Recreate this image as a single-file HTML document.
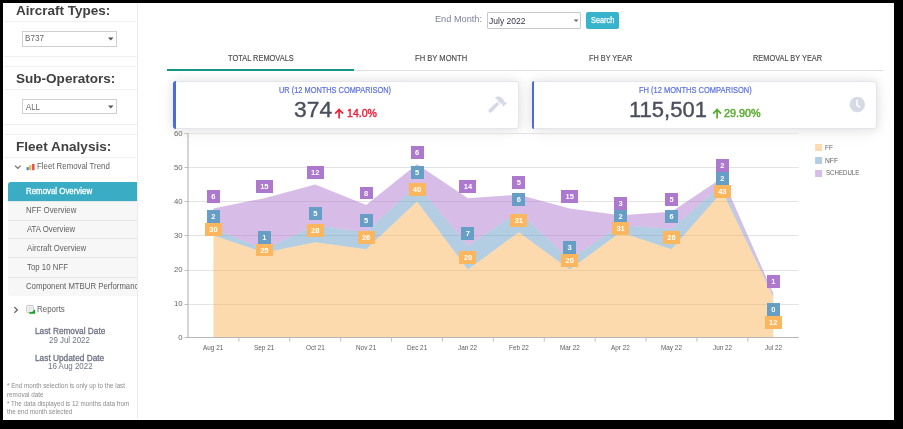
<!DOCTYPE html>
<html><head><meta charset="utf-8"><style>
html,body{margin:0;padding:0;}
body{will-change:transform;width:903px;height:429px;background:#000;position:relative;overflow:hidden;font-family:"Liberation Sans", sans-serif;}
.t{position:absolute;white-space:nowrap;}
.r{position:absolute;}
.lb{position:absolute;color:#fff;font-size:7.5px;font-weight:bold;text-align:center;font-family:"Liberation Sans", sans-serif;}
</style></head><body>
<div class="r" style="left:3.00px;top:3.00px;width:891.00px;height:417.00px;background:#fff"></div>
<div class="r" style="left:137.00px;top:3.00px;width:1.00px;height:415.50px;background:#ebebeb"></div>
<div class="t" style="left:16.36px;top:4.49px;font-size:13.00px;line-height:13.00px;color:#404040;font-weight:bold;transform:scaleX(1.0380);transform-origin:0 0;">Aircraft Types:</div>
<div class="r" style="left:4.00px;top:21.00px;width:133.00px;height:1.00px;background:#efefef"></div>
<div class="r" style="left:22.40px;top:31.00px;width:95.10px;height:15.80px;border:1px solid #cfcfcf;box-sizing:border-box;background:#fff"></div>
<div class="t" style="left:25.43px;top:34.40px;font-size:8.50px;line-height:8.50px;color:#666;font-weight:normal;transform:scaleX(0.9561);transform-origin:0 0;">B737</div>
<svg class="r" style="left:108px;top:37px" width="6" height="4"><path d="M0 0.5h5.5L2.75 3.5z" fill="#555"/></svg>
<div class="r" style="left:4.00px;top:56.00px;width:133.00px;height:1.00px;background:#efefef"></div>
<div class="r" style="left:4.00px;top:66.00px;width:133.00px;height:1.00px;background:#efefef"></div>
<div class="t" style="left:15.89px;top:71.79px;font-size:13.00px;line-height:13.00px;color:#404040;font-weight:bold;transform:scaleX(1.0416);transform-origin:0 0;">Sub-Operators:</div>
<div class="r" style="left:4.00px;top:89.00px;width:133.00px;height:1.00px;background:#efefef"></div>
<div class="r" style="left:22.40px;top:98.70px;width:95.10px;height:15.60px;border:1px solid #cfcfcf;box-sizing:border-box;background:#fff"></div>
<div class="t" style="left:26.08px;top:102.60px;font-size:8.50px;line-height:8.50px;color:#666;font-weight:normal;transform:scaleX(0.9115);transform-origin:0 0;">ALL</div>
<svg class="r" style="left:108px;top:105px" width="6" height="4"><path d="M0 0.5h5.5L2.75 3.5z" fill="#555"/></svg>
<div class="r" style="left:4.00px;top:124.00px;width:133.00px;height:1.00px;background:#efefef"></div>
<div class="r" style="left:4.00px;top:134.00px;width:133.00px;height:1.00px;background:#efefef"></div>
<div class="t" style="left:16.08px;top:139.69px;font-size:13.00px;line-height:13.00px;color:#404040;font-weight:bold;transform:scaleX(1.0443);transform-origin:0 0;">Fleet Analysis:</div>
<div class="r" style="left:4.00px;top:157.00px;width:133.00px;height:1.00px;background:#efefef"></div>
<svg class="r" style="left:14px;top:164.4px" width="8" height="6"><path d="M1 1.6L3.8 4.4L6.6 1.6" stroke="#707070" stroke-width="1.3" fill="none"/></svg>
<svg class="r" style="left:0;top:0" width="903" height="429"><rect x="26.6" y="167.1" width="2.2" height="3.1" fill="#3b82e8"/><rect x="29.1" y="165.2" width="2.2" height="5" fill="#f7b928"/><rect x="32.1" y="163.9" width="2.4" height="6.3" fill="#e24b4b"/></svg>
<div class="t" style="left:37.25px;top:162.02px;font-size:8.60px;line-height:8.60px;color:#5e5e5e;font-weight:normal;transform:scaleX(0.9127);transform-origin:0 0;">Fleet Removal Trend</div>
<div class="r" style="left:8.20px;top:181.70px;width:128.80px;height:114.40px;background:#f7f7f7;border-radius:3px 0 0 3px"></div>
<div class="r" style="left:8.20px;top:181.70px;width:128.80px;height:19.30px;background:#3aadc5;border-radius:3px 0 0 0"></div>
<div class="r" style="left:8.20px;top:201.00px;width:128.80px;height:1.00px;background:#e6e6e6"></div>
<div class="r" style="left:8.20px;top:219.60px;width:128.80px;height:1.00px;background:#e6e6e6"></div>
<div class="r" style="left:8.20px;top:238.20px;width:128.80px;height:1.00px;background:#e6e6e6"></div>
<div class="r" style="left:8.20px;top:257.40px;width:128.80px;height:1.00px;background:#e6e6e6"></div>
<div class="r" style="left:8.20px;top:277.40px;width:128.80px;height:1.00px;background:#e6e6e6"></div>
<div class="t" style="left:26.05px;top:186.89px;font-size:8.40px;line-height:8.40px;color:#fff;font-weight:normal;transform:scaleX(0.9409);transform-origin:0 0;-webkit-text-stroke:0.3px #fff">Removal Overview</div>
<div class="t" style="left:26.05px;top:205.99px;font-size:8.40px;line-height:8.40px;color:#5e5e5e;font-weight:normal;transform:scaleX(0.9414);transform-origin:0 0;">NFF Overview</div>
<div class="t" style="left:26.68px;top:224.89px;font-size:8.40px;line-height:8.40px;color:#5e5e5e;font-weight:normal;transform:scaleX(0.9293);transform-origin:0 0;">ATA Overview</div>
<div class="t" style="left:26.78px;top:243.79px;font-size:8.40px;line-height:8.40px;color:#5e5e5e;font-weight:normal;transform:scaleX(0.9289);transform-origin:0 0;">Aircraft Overview</div>
<div class="t" style="left:26.62px;top:263.09px;font-size:8.40px;line-height:8.40px;color:#5e5e5e;font-weight:normal;transform:scaleX(0.9367);transform-origin:0 0;">Top 10 NFF</div>
<div class="r" style="left:0;top:270px;width:137px;height:26px;overflow:hidden">
<div class="t" style="left:26.41px;top:12.39px;font-size:8.40px;line-height:8.40px;color:#5e5e5e;font-weight:normal;transform:scaleX(0.9289);transform-origin:0 0;">Component MTBUR Performance</div>
</div>
<svg class="r" style="left:13px;top:306px" width="6" height="8"><path d="M1.3 1.1L4.4 3.9L1.3 6.7" stroke="#6a6a6a" stroke-width="1.3" fill="none"/></svg>
<svg class="r" style="left:0;top:0" width="903" height="429"><rect x="26.7" y="305.5" width="6.6" height="7" rx="1" fill="#fafafa" stroke="#bcbcbc" stroke-width="0.9"/><path d="M28.3 307.6h3.4M28.3 309.2h3.4M28.3 310.8h2" stroke="#cfcfcf" stroke-width="0.8"/><path d="M28.8 313.8L30.6 311.6L31.9 312.3L35.1 309.3V313.8z" fill="#15a01e"/></svg>
<div class="t" style="left:37.24px;top:304.82px;font-size:8.60px;line-height:8.60px;color:#5e5e5e;font-weight:normal;transform:scaleX(0.9240);transform-origin:0 0;">Reports</div>
<div class="t" style="left:34.92px;top:326.92px;font-size:8.60px;line-height:8.60px;color:#6e7286;font-weight:normal;transform:scaleX(0.9619);transform-origin:0 0;-webkit-text-stroke:0.3px #6e7286">Last Removal Date</div>
<div class="t" style="left:49.40px;top:335.52px;font-size:8.60px;line-height:8.60px;color:#6e7286;font-weight:normal;transform:scaleX(0.9197);transform-origin:0 0;">29 Jul 2022</div>
<div class="t" style="left:35.21px;top:353.82px;font-size:8.60px;line-height:8.60px;color:#6e7286;font-weight:normal;transform:scaleX(0.9656);transform-origin:0 0;-webkit-text-stroke:0.3px #6e7286">Last Updated Date</div>
<div class="t" style="left:48.00px;top:362.42px;font-size:8.60px;line-height:8.60px;color:#6e7286;font-weight:normal;transform:scaleX(0.9235);transform-origin:0 0;">16 Aug 2022</div>
<div class="t" style="left:7.19px;top:382.98px;font-size:6.40px;line-height:6.40px;color:#8c8c8c;font-weight:normal;transform:scaleX(0.9797);transform-origin:0 0;">* End month selection is only up to the last</div>
<div class="t" style="left:6.87px;top:391.98px;font-size:6.40px;line-height:6.40px;color:#8c8c8c;font-weight:normal;transform:scaleX(0.9893);transform-origin:0 0;">removal date</div>
<div class="t" style="left:7.19px;top:400.68px;font-size:6.40px;line-height:6.40px;color:#8c8c8c;font-weight:normal;transform:scaleX(0.9785);transform-origin:0 0;">* The data displayed is 12 months data from</div>
<div class="t" style="left:7.21px;top:409.28px;font-size:6.40px;line-height:6.40px;color:#8c8c8c;font-weight:normal;transform:scaleX(0.9813);transform-origin:0 0;">the end month selected</div>
<div class="t" style="left:435.34px;top:14.20px;font-size:9.80px;line-height:9.80px;color:#7d8398;font-weight:normal;transform:scaleX(0.9373);transform-origin:0 0;">End Month:</div>
<div class="r" style="left:486.50px;top:11.80px;width:94.20px;height:17.30px;border:1px solid #c8c8c8;box-sizing:border-box;background:#fff;border-radius:1px"></div>
<div class="t" style="left:488.57px;top:16.63px;font-size:9.30px;line-height:9.30px;color:#38344a;font-weight:normal;transform:scaleX(0.9184);transform-origin:0 0;">July 2022</div>
<svg class="r" style="left:0;top:0" width="903" height="429"><path d="M573.7 19.4h4.8L576.1 22z" fill="#666"/></svg>
<div class="r" style="left:585.90px;top:11.90px;width:33.60px;height:17.20px;background:#36b4cb;border-radius:2px"></div>
<div class="t" style="left:591.17px;top:15.55px;font-size:8.80px;line-height:8.80px;color:#fff;font-weight:normal;transform:scaleX(0.8325);transform-origin:0 0;-webkit-text-stroke:0.25px #fff">Search</div>
<div class="r" style="left:167.30px;top:69.60px;width:716.00px;height:1.40px;background:#e0e0e0"></div>
<div class="r" style="left:167.30px;top:69.40px;width:187.00px;height:1.80px;background:#139486"></div>
<div class="t" style="left:228.03px;top:54.21px;font-size:9.20px;line-height:9.20px;color:#4a4a4a;font-weight:normal;transform:scaleX(0.8092);transform-origin:0 0;-webkit-text-stroke:0.15px #4a4a4a">TOTAL REMOVALS</div>
<div class="t" style="left:415.27px;top:54.21px;font-size:9.20px;line-height:9.20px;color:#4a4a4a;font-weight:normal;transform:scaleX(0.8268);transform-origin:0 0;-webkit-text-stroke:0.15px #4a4a4a">FH BY MONTH</div>
<div class="t" style="left:588.90px;top:54.21px;font-size:9.20px;line-height:9.20px;color:#4a4a4a;font-weight:normal;transform:scaleX(0.7955);transform-origin:0 0;-webkit-text-stroke:0.15px #4a4a4a">FH BY YEAR</div>
<div class="t" style="left:753.39px;top:54.21px;font-size:9.20px;line-height:9.20px;color:#4a4a4a;font-weight:normal;transform:scaleX(0.8036);transform-origin:0 0;-webkit-text-stroke:0.15px #4a4a4a">REMOVAL BY YEAR</div>
<div class="r" style="left:173.40px;top:80.50px;width:345.20px;height:48.30px;background:#fff;border-radius:3px;box-shadow:0 0 10px 1px rgba(0,0,0,0.08),0 3px 18px rgba(0,0,0,0.06);border:1px solid #e4e4ec;box-sizing:border-box"></div>
<div class="r" style="left:173.40px;top:80.50px;width:2.20px;height:48.30px;background:#4a6ae0;border-radius:3px 0 0 3px"></div>
<div class="r" style="left:532.20px;top:80.50px;width:345.00px;height:48.30px;background:#fff;border-radius:3px;box-shadow:0 0 10px 1px rgba(0,0,0,0.08),0 3px 18px rgba(0,0,0,0.06);border:1px solid #e4e4ec;box-sizing:border-box"></div>
<div class="r" style="left:532.20px;top:80.50px;width:2.20px;height:48.30px;background:#4a6ae0;border-radius:3px 0 0 3px"></div>
<div class="t" style="left:279.23px;top:85.72px;font-size:8.60px;line-height:8.60px;color:#5a6fe0;font-weight:normal;transform:scaleX(0.8607);transform-origin:0 0;-webkit-text-stroke:0.2px #5a6fe0">UR (12 MONTHS COMPARISON)</div>
<div class="t" style="left:638.58px;top:85.72px;font-size:8.60px;line-height:8.60px;color:#5a6fe0;font-weight:normal;transform:scaleX(0.8721);transform-origin:0 0;-webkit-text-stroke:0.2px #5a6fe0">FH (12 MONTHS COMPARISON)</div>
<div class="t" style="left:293.54px;top:99.33px;font-size:22.40px;line-height:22.40px;color:#4b4f5c;font-weight:normal;transform:scaleX(1.0196);transform-origin:0 0;-webkit-text-stroke:0.4px #4b4f5c">374</div>
<svg class="r" style="left:334px;top:108px" width="11" height="11"><path d="M5.1 10.5V1.8M1.2 5.6L5.1 1.5L9.0 5.6" stroke="#f0203a" stroke-width="1.7" fill="none"/></svg>
<div class="t" style="left:346.81px;top:108.43px;font-size:11.30px;line-height:11.30px;color:#f0203a;font-weight:normal;transform:scaleX(0.9353);transform-origin:0 0;-webkit-text-stroke:0.45px #f0203a">14.0%</div>
<div class="t" style="left:629.15px;top:99.13px;font-size:22.40px;line-height:22.40px;color:#4b4f5c;font-weight:normal;transform:scaleX(0.9823);transform-origin:0 0;-webkit-text-stroke:0.4px #4b4f5c">115,501</div>
<svg class="r" style="left:711.5px;top:108px" width="11" height="11"><path d="M5.1 10.5V1.8M1.2 5.6L5.1 1.5L9.0 5.6" stroke="#55ab2c" stroke-width="1.7" fill="none"/></svg>
<div class="t" style="left:724.16px;top:108.33px;font-size:11.30px;line-height:11.30px;color:#55ab2c;font-weight:normal;transform:scaleX(0.9559);transform-origin:0 0;-webkit-text-stroke:0.45px #55ab2c">29.90%</div>
<svg class="r" style="left:0;top:0" width="903" height="429"><path transform="translate(488.5,96.5) scale(0.0316)" d="M571.31 193.94l-22.63-22.63c-6.25-6.25-16.38-6.25-22.63 0l-11.31 11.31-28.9-28.9c5.630-21.31.36-44.9-16.35-61.61l-45.25-45.25c-62.48-62.48-163.79-62.48-226.28 0l90.51 45.25v18.75c0 16.97 6.74 33.25 18.75 45.25l49.14 49.14c16.71 16.71 40.3 21.98 61.61 16.35l28.9 28.9-11.31 11.31c-6.25 6.25-6.25 16.38 0 22.63l22.63 22.63c6.25 6.25 16.38 6.25 22.63 0l90.51-90.51c6.23-6.24 6.23-16.37-.02-22.62zm-286.72-15.2c-3.7-3.7-6.84-7.79-9.85-11.95L19.64 404.96c-25.57 23.88-26.26 64.19-1.53 88.93s65.05 24.05 88.93-1.53l238.13-255.07c-3.96-2.91-7.9-5.87-11.44-9.41l-49.14-49.14z" fill="#d6d9e6"/></svg>
<svg class="r" style="left:848px;top:95px" width="19" height="19"><circle cx="9.3" cy="9.5" r="7.7" fill="#d6d9e6"/><path d="M9 5.3V10.4L11.6 12" stroke="#fff" stroke-width="1.5" fill="none" stroke-linecap="round"/></svg>
<svg class="r" style="left:0;top:0" width="903" height="429">
<line x1="184.5" y1="337.50" x2="188.0" y2="337.50" stroke="#bdbdbd" stroke-width="1"/>
<line x1="188.0" y1="304.50" x2="798.7" y2="304.50" stroke="#e3e3e3" stroke-width="1"/>
<line x1="184.5" y1="304.50" x2="188.0" y2="304.50" stroke="#bdbdbd" stroke-width="1"/>
<line x1="188.0" y1="270.50" x2="798.7" y2="270.50" stroke="#e3e3e3" stroke-width="1"/>
<line x1="184.5" y1="270.50" x2="188.0" y2="270.50" stroke="#bdbdbd" stroke-width="1"/>
<line x1="188.0" y1="235.50" x2="798.7" y2="235.50" stroke="#e3e3e3" stroke-width="1"/>
<line x1="184.5" y1="235.50" x2="188.0" y2="235.50" stroke="#bdbdbd" stroke-width="1"/>
<line x1="188.0" y1="201.50" x2="798.7" y2="201.50" stroke="#e3e3e3" stroke-width="1"/>
<line x1="184.5" y1="201.50" x2="188.0" y2="201.50" stroke="#bdbdbd" stroke-width="1"/>
<line x1="188.0" y1="167.50" x2="798.7" y2="167.50" stroke="#e3e3e3" stroke-width="1"/>
<line x1="184.5" y1="167.50" x2="188.0" y2="167.50" stroke="#bdbdbd" stroke-width="1"/>
<line x1="188.0" y1="133.50" x2="798.7" y2="133.50" stroke="#e3e3e3" stroke-width="1"/>
<line x1="184.5" y1="133.50" x2="188.0" y2="133.50" stroke="#bdbdbd" stroke-width="1"/>
<polygon points="213.45,235.56 264.34,252.55 315.23,242.36 366.12,249.15 417.01,201.58 467.90,269.54 518.80,232.16 569.69,269.54 620.58,232.16 671.47,249.15 722.36,191.39 773.25,296.72 773.25,337.50 722.36,337.50 671.47,337.50 620.58,337.50 569.69,337.50 518.80,337.50 467.90,337.50 417.01,337.50 366.12,337.50 315.23,337.50 264.34,337.50 213.45,337.50" fill="#fcb65e" fill-opacity="0.5"/>
<polygon points="213.45,228.76 264.34,249.15 315.23,225.37 366.12,232.16 417.01,184.59 467.90,245.75 518.80,211.77 569.69,259.35 620.58,225.37 671.47,228.76 722.36,184.59 773.25,296.72 773.25,296.72 722.36,191.39 671.47,249.15 620.58,232.16 569.69,269.54 518.80,232.16 467.90,269.54 417.01,201.58 366.12,249.15 315.23,242.36 264.34,252.55 213.45,235.56" fill="#679ec5" fill-opacity="0.5"/>
<polygon points="213.45,208.38 264.34,198.18 315.23,184.59 366.12,204.98 417.01,164.20 467.90,198.18 518.80,194.78 569.69,208.38 620.58,215.17 671.47,211.77 722.36,177.79 773.25,293.33 773.25,296.72 722.36,184.59 671.47,228.76 620.58,225.37 569.69,259.35 518.80,211.77 467.90,245.75 417.01,184.59 366.12,232.16 315.23,225.37 264.34,249.15 213.45,228.76" fill="#ad79ce" fill-opacity="0.5"/>
<line x1="188.0" y1="133.62" x2="188.0" y2="338.0" stroke="#b6b6b6" stroke-width="1.15"/>
<line x1="188.0" y1="337.5" x2="798.7" y2="337.5" stroke="#b6b6b6" stroke-width="1.15"/>
<line x1="238.89" y1="337.5" x2="238.89" y2="341.5" stroke="#bdbdbd" stroke-width="1"/>
<line x1="289.78" y1="337.5" x2="289.78" y2="341.5" stroke="#bdbdbd" stroke-width="1"/>
<line x1="340.68" y1="337.5" x2="340.68" y2="341.5" stroke="#bdbdbd" stroke-width="1"/>
<line x1="391.57" y1="337.5" x2="391.57" y2="341.5" stroke="#bdbdbd" stroke-width="1"/>
<line x1="442.46" y1="337.5" x2="442.46" y2="341.5" stroke="#bdbdbd" stroke-width="1"/>
<line x1="493.35" y1="337.5" x2="493.35" y2="341.5" stroke="#bdbdbd" stroke-width="1"/>
<line x1="544.24" y1="337.5" x2="544.24" y2="341.5" stroke="#bdbdbd" stroke-width="1"/>
<line x1="595.13" y1="337.5" x2="595.13" y2="341.5" stroke="#bdbdbd" stroke-width="1"/>
<line x1="646.03" y1="337.5" x2="646.03" y2="341.5" stroke="#bdbdbd" stroke-width="1"/>
<line x1="696.92" y1="337.5" x2="696.92" y2="341.5" stroke="#bdbdbd" stroke-width="1"/>
<line x1="747.81" y1="337.5" x2="747.81" y2="341.5" stroke="#bdbdbd" stroke-width="1"/>
<rect x="815.1" y="144.00" width="7" height="7" fill="#fcb65e" fill-opacity="0.5"/>
<rect x="815.1" y="157.00" width="7" height="7" fill="#679ec5" fill-opacity="0.5"/>
<rect x="815.1" y="170.00" width="7" height="7" fill="#ad79ce" fill-opacity="0.5"/>
</svg>
<div class="t" style="left:825.27px;top:143.87px;font-size:7.60px;line-height:7.60px;color:#606060;font-weight:normal;transform:scaleX(0.8392);transform-origin:0 0;">FF</div>
<div class="t" style="left:825.25px;top:156.67px;font-size:7.60px;line-height:7.60px;color:#606060;font-weight:normal;transform:scaleX(0.8820);transform-origin:0 0;">NFF</div>
<div class="t" style="left:825.52px;top:169.37px;font-size:7.60px;line-height:7.60px;color:#606060;font-weight:normal;transform:scaleX(0.8052);transform-origin:0 0;">SCHEDULE</div>
<div class="t" style="left:178.36px;top:333.70px;font-size:7.80px;line-height:7.80px;color:#666;font-weight:normal;transform:scaleX(1.0000);transform-origin:0 0;">0</div>
<div class="t" style="left:174.03px;top:299.72px;font-size:7.80px;line-height:7.80px;color:#666;font-weight:normal;transform:scaleX(1.0000);transform-origin:0 0;">10</div>
<div class="t" style="left:174.03px;top:265.74px;font-size:7.80px;line-height:7.80px;color:#666;font-weight:normal;transform:scaleX(1.0000);transform-origin:0 0;">20</div>
<div class="t" style="left:174.03px;top:231.76px;font-size:7.80px;line-height:7.80px;color:#666;font-weight:normal;transform:scaleX(1.0000);transform-origin:0 0;">30</div>
<div class="t" style="left:174.03px;top:197.78px;font-size:7.80px;line-height:7.80px;color:#666;font-weight:normal;transform:scaleX(1.0000);transform-origin:0 0;">40</div>
<div class="t" style="left:174.03px;top:163.80px;font-size:7.80px;line-height:7.80px;color:#666;font-weight:normal;transform:scaleX(1.0000);transform-origin:0 0;">50</div>
<div class="t" style="left:174.03px;top:129.82px;font-size:7.80px;line-height:7.80px;color:#666;font-weight:normal;transform:scaleX(1.0000);transform-origin:0 0;">60</div>
<div class="t" style="left:203.48px;top:343.80px;font-size:7.80px;line-height:7.80px;color:#5c5c5c;font-weight:normal;transform:scaleX(0.8184);transform-origin:0 0;">Aug 21</div>
<div class="t" style="left:254.24px;top:343.80px;font-size:7.80px;line-height:7.80px;color:#5c5c5c;font-weight:normal;transform:scaleX(0.8184);transform-origin:0 0;">Sep 21</div>
<div class="t" style="left:305.83px;top:343.80px;font-size:7.80px;line-height:7.80px;color:#5c5c5c;font-weight:normal;transform:scaleX(0.8184);transform-origin:0 0;">Oct 21</div>
<div class="t" style="left:355.90px;top:343.80px;font-size:7.80px;line-height:7.80px;color:#5c5c5c;font-weight:normal;transform:scaleX(0.8184);transform-origin:0 0;">Nov 21</div>
<div class="t" style="left:406.79px;top:343.80px;font-size:7.80px;line-height:7.80px;color:#5c5c5c;font-weight:normal;transform:scaleX(0.8184);transform-origin:0 0;">Dec 21</div>
<div class="t" style="left:458.43px;top:343.80px;font-size:7.80px;line-height:7.80px;color:#5c5c5c;font-weight:normal;transform:scaleX(0.8184);transform-origin:0 0;">Jan 22</div>
<div class="t" style="left:508.76px;top:343.80px;font-size:7.80px;line-height:7.80px;color:#5c5c5c;font-weight:normal;transform:scaleX(0.8184);transform-origin:0 0;">Feb 22</div>
<div class="t" style="left:559.66px;top:343.80px;font-size:7.80px;line-height:7.80px;color:#5c5c5c;font-weight:normal;transform:scaleX(0.8184);transform-origin:0 0;">Mar 22</div>
<div class="t" style="left:611.33px;top:343.80px;font-size:7.80px;line-height:7.80px;color:#5c5c5c;font-weight:normal;transform:scaleX(0.8184);transform-origin:0 0;">Apr 22</div>
<div class="t" style="left:660.91px;top:343.80px;font-size:7.80px;line-height:7.80px;color:#5c5c5c;font-weight:normal;transform:scaleX(0.8184);transform-origin:0 0;">May 22</div>
<div class="t" style="left:712.89px;top:343.80px;font-size:7.80px;line-height:7.80px;color:#5c5c5c;font-weight:normal;transform:scaleX(0.8184);transform-origin:0 0;">Jun 22</div>
<div class="t" style="left:764.85px;top:343.80px;font-size:7.80px;line-height:7.80px;color:#5c5c5c;font-weight:normal;transform:scaleX(0.8184);transform-origin:0 0;">Jul 22</div>
<div class="lb" style="left:206.95px;top:189.98px;width:13.0px;height:12.8px;line-height:14.4px;background:#ad79ce">6</div>
<div class="lb" style="left:206.95px;top:210.36px;width:13.0px;height:12.8px;line-height:14.4px;background:#679ec5">2</div>
<div class="lb" style="left:204.95px;top:223.16px;width:17.0px;height:12.8px;line-height:14.4px;background:#fcb65e">30</div>
<div class="lb" style="left:255.84px;top:179.78px;width:17.0px;height:12.8px;line-height:14.4px;background:#ad79ce">15</div>
<div class="lb" style="left:257.84px;top:230.75px;width:13.0px;height:12.8px;line-height:14.4px;background:#679ec5">1</div>
<div class="lb" style="left:255.84px;top:243.55px;width:17.0px;height:12.8px;line-height:14.4px;background:#fcb65e">25</div>
<div class="lb" style="left:306.73px;top:166.19px;width:17.0px;height:12.8px;line-height:14.4px;background:#ad79ce">12</div>
<div class="lb" style="left:308.73px;top:206.97px;width:13.0px;height:12.8px;line-height:14.4px;background:#679ec5">5</div>
<div class="lb" style="left:306.73px;top:223.96px;width:17.0px;height:12.8px;line-height:14.4px;background:#fcb65e">28</div>
<div class="lb" style="left:359.62px;top:186.58px;width:13.0px;height:12.8px;line-height:14.4px;background:#ad79ce">8</div>
<div class="lb" style="left:359.62px;top:213.76px;width:13.0px;height:12.8px;line-height:14.4px;background:#679ec5">5</div>
<div class="lb" style="left:357.62px;top:230.75px;width:17.0px;height:12.8px;line-height:14.4px;background:#fcb65e">26</div>
<div class="lb" style="left:410.51px;top:145.80px;width:13.0px;height:12.8px;line-height:14.4px;background:#ad79ce">6</div>
<div class="lb" style="left:410.51px;top:166.19px;width:13.0px;height:12.8px;line-height:14.4px;background:#679ec5">5</div>
<div class="lb" style="left:408.51px;top:183.18px;width:17.0px;height:12.8px;line-height:14.4px;background:#fcb65e">40</div>
<div class="lb" style="left:459.40px;top:179.78px;width:17.0px;height:12.8px;line-height:14.4px;background:#ad79ce">14</div>
<div class="lb" style="left:461.40px;top:227.35px;width:13.0px;height:12.8px;line-height:14.4px;background:#679ec5">7</div>
<div class="lb" style="left:459.40px;top:251.14px;width:17.0px;height:12.8px;line-height:14.4px;background:#fcb65e">20</div>
<div class="lb" style="left:512.30px;top:176.38px;width:13.0px;height:12.8px;line-height:14.4px;background:#ad79ce">5</div>
<div class="lb" style="left:512.30px;top:193.37px;width:13.0px;height:12.8px;line-height:14.4px;background:#679ec5">6</div>
<div class="lb" style="left:510.30px;top:213.76px;width:17.0px;height:12.8px;line-height:14.4px;background:#fcb65e">31</div>
<div class="lb" style="left:561.19px;top:189.98px;width:17.0px;height:12.8px;line-height:14.4px;background:#ad79ce">15</div>
<div class="lb" style="left:563.19px;top:240.95px;width:13.0px;height:12.8px;line-height:14.4px;background:#679ec5">3</div>
<div class="lb" style="left:561.19px;top:253.75px;width:17.0px;height:12.8px;line-height:14.4px;background:#fcb65e">20</div>
<div class="lb" style="left:614.08px;top:196.77px;width:13.0px;height:12.8px;line-height:14.4px;background:#ad79ce">3</div>
<div class="lb" style="left:614.08px;top:209.57px;width:13.0px;height:12.8px;line-height:14.4px;background:#679ec5">2</div>
<div class="lb" style="left:612.08px;top:222.37px;width:17.0px;height:12.8px;line-height:14.4px;background:#fcb65e">31</div>
<div class="lb" style="left:664.97px;top:193.37px;width:13.0px;height:12.8px;line-height:14.4px;background:#ad79ce">5</div>
<div class="lb" style="left:664.97px;top:210.36px;width:13.0px;height:12.8px;line-height:14.4px;background:#679ec5">6</div>
<div class="lb" style="left:662.97px;top:230.75px;width:17.0px;height:12.8px;line-height:14.4px;background:#fcb65e">26</div>
<div class="lb" style="left:715.86px;top:159.39px;width:13.0px;height:12.8px;line-height:14.4px;background:#ad79ce">2</div>
<div class="lb" style="left:715.86px;top:172.19px;width:13.0px;height:12.8px;line-height:14.4px;background:#679ec5">2</div>
<div class="lb" style="left:713.86px;top:184.99px;width:17.0px;height:12.8px;line-height:14.4px;background:#fcb65e">43</div>
<div class="lb" style="left:766.75px;top:274.93px;width:13.0px;height:12.8px;line-height:14.4px;background:#ad79ce">1</div>
<div class="lb" style="left:766.75px;top:302.90px;width:13.0px;height:12.8px;line-height:14.4px;background:#679ec5">0</div>
<div class="lb" style="left:764.75px;top:315.80px;width:17.0px;height:12.8px;line-height:14.4px;background:#fcb65e">12</div>
</body></html>
